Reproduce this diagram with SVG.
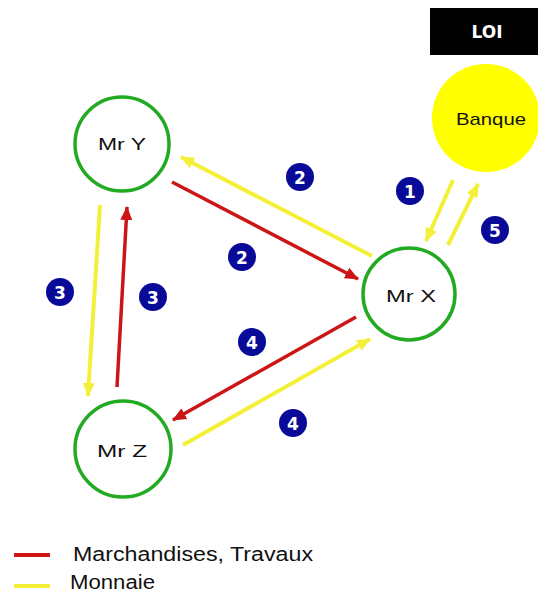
<svg xmlns="http://www.w3.org/2000/svg" width="538" height="593" viewBox="0 0 538 593">
  <style>
    .node { fill: #ffffff; stroke: #22aa22; stroke-width: 3.5; }
    .name { font-family: "Liberation Sans", Arial, sans-serif; font-size: 17px; fill: #111111; text-anchor: middle; dominant-baseline: central; }
    .red { stroke: #cc1515; stroke-width: 3.5; fill: none; }
    .yellow { stroke: #f4f03a; stroke-width: 4; fill: none; }
    .badge circle { fill: #0a0a99; }
    .badge text { font-family: "DejaVu Sans", sans-serif; font-weight: bold; font-size: 17px; fill: #ffffff; text-anchor: middle; dominant-baseline: central; }
    .legend { font-family: "Liberation Sans", Arial, sans-serif; font-size: 20px; fill: #111111; }
  </style>
  <defs>
    <marker id="head-red" markerUnits="userSpaceOnUse" markerWidth="14" markerHeight="12" refX="13" refY="6" orient="auto">
      <path d="M0,0 L14,6 L0,12 Z" fill="#cc1515"/>
    </marker>
    <marker id="head-yellow" markerUnits="userSpaceOnUse" markerWidth="14" markerHeight="12" refX="13" refY="6" orient="auto">
      <path d="M0,0 L14,6 L0,12 Z" fill="#f4f03a"/>
    </marker>
  </defs>

  <rect width="538" height="593" fill="#ffffff"/>

  <!-- title box -->
  <g id="loi">
    <rect x="430" y="8" width="108" height="47" fill="#000000"/>
    <text x="487" y="32" font-family="DejaVu Sans, sans-serif" font-weight="bold" font-size="17" fill="#ffffff" text-anchor="middle" dominant-baseline="central">LOI</text>
  </g>

  <!-- connectors -->
  <g id="connectors">
    <!-- 2: Mr X -> Mr Y (money), Mr Y -> Mr X (goods) -->
    <line class="yellow" x1="372" y1="256" x2="181" y2="157" marker-end="url(#head-yellow)"/>
    <line class="red" x1="172" y1="182" x2="358" y2="279" marker-end="url(#head-red)"/>
    <!-- 3: Mr Y -> Mr Z (money), Mr Z -> Mr Y (goods) -->
    <line class="yellow" x1="100" y1="205" x2="88" y2="396" marker-end="url(#head-yellow)"/>
    <line class="red" x1="117" y1="387" x2="127" y2="207" marker-end="url(#head-red)"/>
    <!-- 4: Mr X -> Mr Z (goods), Mr Z -> Mr X (money) -->
    <line class="red" x1="356" y1="317" x2="173" y2="420" marker-end="url(#head-red)"/>
    <line class="yellow" x1="183" y1="445" x2="370" y2="339" marker-end="url(#head-yellow)"/>
    <!-- 1 and 5: bank loan and repayment -->
    <line class="yellow" x1="453" y1="180" x2="426" y2="241" marker-end="url(#head-yellow)"/>
    <line class="yellow" x1="448" y1="245" x2="478" y2="184" marker-end="url(#head-yellow)"/>
  </g>

  <!-- nodes -->
  <g id="banque">
    <circle cx="486" cy="118" r="54" fill="#ffff00"/>
    <text class="name" x="491" y="119" textLength="70" lengthAdjust="spacingAndGlyphs">Banque</text>
  </g>
  <g id="mr-y">
    <circle class="node" cx="122" cy="144" r="47"/>
    <text class="name" x="122" y="144" textLength="48" lengthAdjust="spacingAndGlyphs">Mr Y</text>
  </g>
  <g id="mr-x">
    <circle class="node" cx="409" cy="294" r="46"/>
    <text class="name" x="411" y="296" textLength="50" lengthAdjust="spacingAndGlyphs">Mr X</text>
  </g>
  <g id="mr-z">
    <circle class="node" cx="123" cy="449" r="48"/>
    <text class="name" x="122" y="451" textLength="50" lengthAdjust="spacingAndGlyphs">Mr Z</text>
  </g>

  <!-- step numbers -->
  <g id="step-1" class="badge"><circle cx="410" cy="191" r="14"/><text x="410" y="192">1</text></g>
  <g id="step-2a" class="badge"><circle cx="300" cy="177" r="14"/><text x="300" y="178">2</text></g>
  <g id="step-2b" class="badge"><circle cx="242" cy="257" r="14"/><text x="242" y="258">2</text></g>
  <g id="step-3a" class="badge"><circle cx="60" cy="292" r="14"/><text x="60" y="293">3</text></g>
  <g id="step-3b" class="badge"><circle cx="153" cy="297" r="14"/><text x="153" y="298">3</text></g>
  <g id="step-4a" class="badge"><circle cx="252" cy="342" r="14"/><text x="252" y="343">4</text></g>
  <g id="step-4b" class="badge"><circle cx="293" cy="423" r="14"/><text x="293" y="424">4</text></g>
  <g id="step-5" class="badge"><circle cx="495" cy="230" r="14"/><text x="495" y="231">5</text></g>

  <!-- legend -->
  <g id="legend">
    <line x1="14" y1="555" x2="50" y2="555" stroke="#cc1515" stroke-width="4"/>
    <text class="legend" x="73" y="561" textLength="240" lengthAdjust="spacingAndGlyphs">Marchandises, Travaux</text>
    <line x1="14" y1="586" x2="50" y2="586" stroke="#f4f03a" stroke-width="4"/>
    <text class="legend" x="70" y="589" textLength="85" lengthAdjust="spacingAndGlyphs">Monnaie</text>
  </g>
</svg>
